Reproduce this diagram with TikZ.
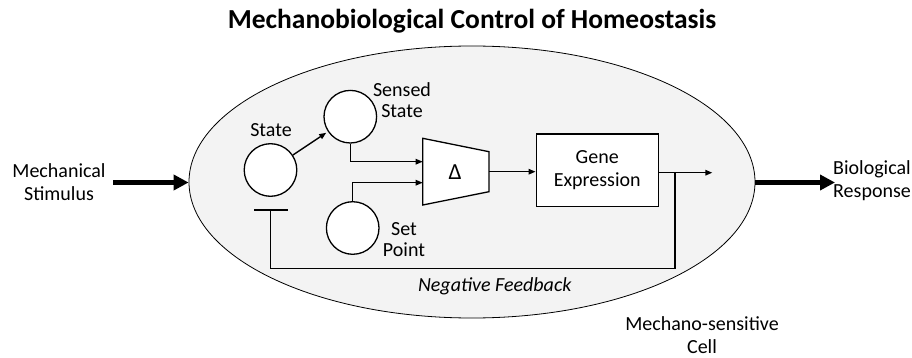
\documentclass[tikz,border=0pt]{standalone}
\usepackage{fontspec}
\setmainfont{Carlito}
\usetikzlibrary{arrows.meta,shapes.geometric}
\definecolor{cellfill}{HTML}{F3F3F3}
\tikzset{
  lbl/.style={font=\fontsize{20}{22}\selectfont, inner sep=0pt, align=center},
  blob/.style={circle, draw=black, line width=1.3pt, fill=white, minimum size=52.6pt, inner sep=0pt},
  conn/.style={line width=1.4pt, -{Triangle[length=7pt,width=5.5pt]}},
  plain/.style={line width=1.4pt},
  bigarrow/.style={line width=4.6pt, -{Triangle[length=15pt,width=15pt]}},
  genebox/.style={draw=black, line width=1.3pt, fill=white, minimum width=122pt, minimum height=72.7pt, inner sep=0pt}
}
\begin{document}
\begin{tikzpicture}[x=1pt,y=-1pt]
\useasboundingbox (0,0) rectangle (912,358);
% title
\node[font=\fontsize{27.5}{30}\selectfont\bfseries, inner sep=0pt] (title) at (472,21) {Mechanobiological Control of Homeostasis};
% cell
\node[ellipse, draw=black, line width=0.8pt, fill=cellfill, minimum width=566pt, minimum height=272pt, inner sep=0pt] (cell) at (472,182) {};
% circles
\node[blob] (state) at (270.5,170) {};
\node[blob] (sensed) at (350.3,116.7) {};
\node[blob] (setp) at (352.7,228) {};
% labels
\node[lbl] (statelbl) at (271,130) {State};
\node[lbl] (sensedlbl) at (402,100) {Sensed\\[-1pt]State};
\node[lbl] (setlbl) at (404,240) {Set\\[-1pt]Point};
% comparator
\coordinate (tl) at (422.7,138.3);
\coordinate (tr) at (489,151.7);
\coordinate (br) at (489,191.7);
\coordinate (bl) at (422.7,205);
\draw[line width=1.3pt, fill=white] (tl) -- (tr) -- (br) -- (bl) -- cycle;
\node[font=\fontsize{23}{26}\selectfont, inner sep=0pt] (delta) at (455,172) {Δ};
\coordinate (dout) at (489,171.7);
\coordinate (din1) at (422.7,161.7);
\coordinate (din2) at (422.7,182.7);
% gene expression
\node[genebox, lbl] (gene) at (597.2,170.4) {Gene\\[1pt]Expression};
% connectors
\draw[conn, shorten >=2pt] (state) -- (sensed);
\draw[conn] (sensed.south) |- (din1);
\draw[conn] (setp.north) |- (din2);
\draw[conn] (dout) -- (gene.west |- dout);
\coordinate (outend) at (712.3,172.7);
\coordinate (fbtop) at (675,172.7);
\draw[conn] (gene.east |- outend) -- (outend);
\coordinate (fbbot) at (675,268.5);
\coordinate (fbleft) at (270.7,268.5);
\coordinate (tbar) at (270.7,210);
\draw[plain] (fbtop) -- (fbbot) -- (fbleft) -- (tbar);
\draw[plain] (254,210) -- (288.3,210);
\node[lbl, font=\fontsize{20}{22}\selectfont\itshape] (neg) at (494.7,286.5) {Negative Feedback};
% outside
\node[lbl] (stim) at (59,182) {Mechanical\\[1pt]Stimulus};
\node[lbl] (resp) at (872,181) {Biological\\[1pt]Response};
\node[lbl] (celllbl) at (702,335) {Mechano-sensitive\\[1pt]Cell};
\coordinate (stimstart) at (113,182.5);
\coordinate (respend) at (835,182.5);
\draw[bigarrow] (stimstart) -- (cell.west |- stimstart);
\draw[bigarrow] (cell.east |- respend) -- (respend);
\end{tikzpicture}
\end{document}
